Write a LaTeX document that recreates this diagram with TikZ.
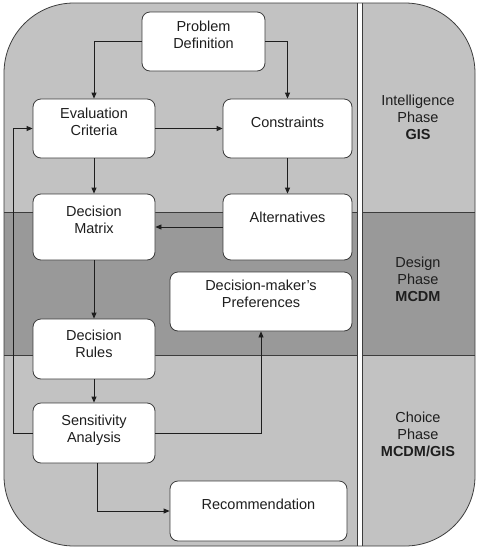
\documentclass[tikz,border=0pt]{standalone}
\usepackage{fontspec}
\setmainfont{Liberation Sans}
\usetikzlibrary{arrows.meta,positioning}
\definecolor{panelgray}{RGB}{194,194,194}
\definecolor{bandgray}{RGB}{153,153,153}
\definecolor{edgegray}{RGB}{60,60,60}
\definecolor{inkgray}{RGB}{30,30,30}

\tikzset{
  stepbox/.style={draw=edgegray,fill=white,rounded corners=8pt,line width=0.8pt,
    align=center,text=inkgray,font=\fontsize{14.5}{17}\selectfont,inner sep=2pt},
  oneline/.style={text depth=#1},
  arr/.style={-{Triangle[length=6pt,width=5pt]},line width=0.8pt,inkgray},
  phase/.style={align=center,text=inkgray,font=\fontsize{14.5}{17}\selectfont}
}

\begin{document}
\begin{tikzpicture}[x=1pt,y=-1pt]
\useasboundingbox (0,0) rectangle (478,550);
% panel and phase band
\fill[panelgray,rounded corners=70pt] (4,3) rectangle (475,546);
\begin{scope}
\clip[rounded corners=70pt] (4,3) rectangle (475,546);
\fill[bandgray] (4,212) rectangle (475,355);
\end{scope}
\draw[edgegray,line width=0.6pt] (4,212) -- (475,212) (4,355) -- (475,355);
\fill[white] (357,3) rectangle (362,546);
\draw[edgegray,line width=0.6pt] (357,3) -- (357,546) (362,3) -- (362,546);
\draw[edgegray,line width=0.8pt,rounded corners=70pt] (4,3) rectangle (475,546);

% steps
\node[stepbox,oneline=14pt,minimum width=123pt,minimum height=59pt] (prob) at (203.5,41.5) {Problem\\Definition};
\node[stepbox,oneline=14pt,minimum width=122pt,minimum height=59pt] (eval) at (94,128.5) {Evaluation\\Criteria};
\node[stepbox,oneline=13pt,minimum width=129pt,minimum height=59pt] (cons) at (287.5,128.5) {Constraints};
\node[stepbox,oneline=14pt,minimum width=122pt,minimum height=66pt] (mat) at (94,227) {Decision\\Matrix};
\node[stepbox,oneline=20pt,minimum width=129pt,minimum height=66pt] (alt) at (287.5,227) {Alternatives};
\node[stepbox,oneline=15pt,minimum width=182pt,minimum height=59pt] (pref) at (261,301.5) {Decision-maker’s\\Preferences};
\node[stepbox,oneline=10pt,minimum width=122pt,minimum height=60pt] (rules) at (94,349) {Decision\\Rules};
\node[stepbox,oneline=8pt,minimum width=122pt,minimum height=60pt] (sens) at (94,433) {Sensitivity\\Analysis};
\node[stepbox,oneline=13pt,minimum width=177pt,minimum height=60pt] (rec) at (258.5,511) {Recommendation};

% phases
\node[phase] (intel) at (418,117) {Intelligence\\Phase\\\textbf{GIS}};
\node[phase] (design) at (418,279) {Design\\Phase\\\textbf{MCDM}};
\node[phase] (choice) at (418,434) {Choice\\Phase\\\textbf{MCDM/GIS}};

% flows
\draw[arr] (prob.west) -| (eval.north);
\draw[arr] (prob.east) -| (cons.north);
\draw[arr] (eval.east) -- (cons.west);
\draw[arr] (eval.south) -- (mat.north);
\draw[arr] (cons.south) -- (alt.north);
\draw[arr] (alt.west) -- (mat.east);
\draw[arr] (mat.south) -- (rules.north);
\draw[arr] (rules.south) -- (sens.north);
\draw[arr] (sens.west) -- ++(-19,0) |- (eval.west);
\draw[arr] (sens.east) -| (pref.south);
\draw[arr] ([xshift=3pt]sens.south) |- (rec.west);
\end{tikzpicture}
\end{document}
